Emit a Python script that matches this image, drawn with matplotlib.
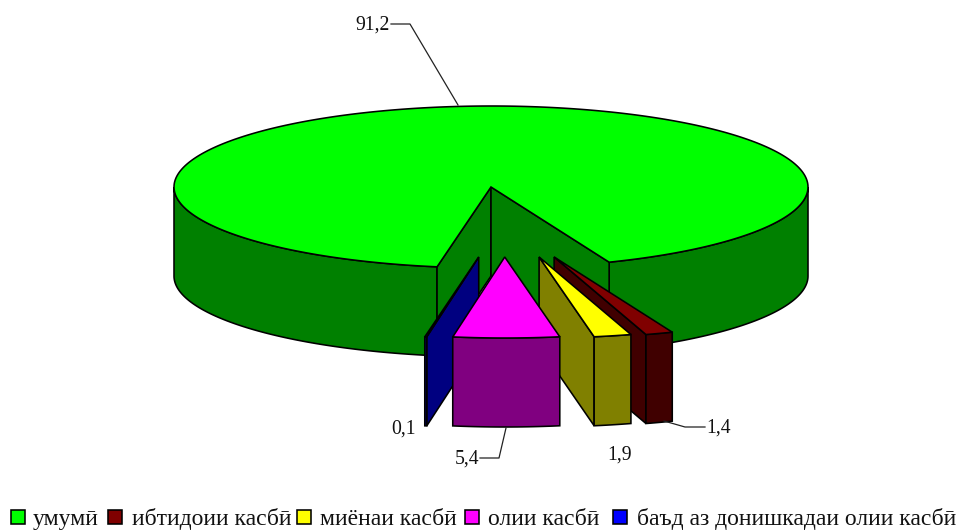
import numpy as np
import matplotlib
matplotlib.use("Agg")
import matplotlib.pyplot as plt
from matplotlib.patches import Polygon, Rectangle

plt.rcParams["font.family"] = ["Liberation Serif", "DejaVu Serif"]

categories = ["умумӣ", "ибтидоии касбӣ", "миёнаи касбӣ", "олии касбӣ",
              "баъд аз донишкадаи олии касбӣ"]
values = [91.2, 1.4, 1.9, 5.4, 0.1]
top_colors = ["#00ff00", "#800000", "#ffff00", "#ff00ff", "#0000ff"]
side_colors = ["#008000", "#400000", "#808000", "#800080", "#000080"]

CX, CY = 491, 187      # pie centre, pixels
A, B = 317, 81         # ellipse radii
DEPTH = 89
START = 189.8          # clockwise from 12 o'clock
EXPL_X, EXPL_Y, SHIFT = 0.477 * A, 70, 13
LW = 1.15

fig = plt.figure(figsize=(9.58, 5.30), dpi=100)
ax = fig.add_axes([0, 0, 1, 1])
ax.set_xlim(0, 958)
ax.set_ylim(530, 0)
ax.axis("off")


def rim(t0, t1, ox=0, oy=0, dz=0):
    t = np.radians(np.linspace(t0, t1, max(int(abs(t1 - t0)) + 2, 2)))
    return np.column_stack([ox + CX + A * np.sin(t), oy + CY - B * np.cos(t) + dz])


def poly(pts, fc, z):
    ax.add_patch(Polygon(pts, closed=True, fc=fc, ec="black", lw=LW,
                         joinstyle="miter", zorder=z))


def front(t0, t1, fc, z, ox=0, oy=0):
    up = rim(t0, t1, ox, oy)
    down = rim(t0, t1, ox, oy, DEPTH)
    poly(np.vstack([up, down[::-1]]), fc, z)


shares = np.array(values) / sum(values) * 360
ends = START + np.cumsum(shares)
begins = ends - shares

# ---- main slice: inner walls, outer wall, top ----
t0, t1 = begins[0], ends[0]
apex = np.array([[CX, CY]])
front(t0, 270, side_colors[0], 1)
front(450, t1, side_colors[0], 1)
for t in (t0, t1):
    p = rim(t, t)[0]
    poly([apex[0], p, p + [0, DEPTH], apex[0] + [0, DEPTH]], side_colors[0], 2)
poly(np.vstack([apex, rim(t0, t1)]), top_colors[0], 3)

# ---- exploded slices, back to front ----
for i, z in zip([1, 2, 4, 3], [4, 6, 8, 10]):
    t0, t1 = begins[i], ends[i]
    mid = (t0 + t1) / 2 % 360
    ox = SHIFT + EXPL_X * np.sin(np.radians(mid))
    oy = EXPL_Y
    ap = np.array([CX + ox, CY + oy])
    # cut face on the side that looks at the viewer
    if abs(mid - 180) > 2:
        edge = t1 if mid < 180 else t0
        p = rim(edge, edge, ox, oy)[0]
        poly([ap, p, p + [0, DEPTH], ap + [0, DEPTH]], side_colors[i], z)
    front(t0, t1, side_colors[i], z + 1, ox, oy)
    poly(np.vstack([ap, rim(t0, t1, ox, oy)]), top_colors[i], z + 1)

# ---- data labels and leaders ----
label_pos = [(372.5, 25), (719, 428), (619.5, 455), (467, 459), (403.5, 429)]
for v, (x, y) in zip(values, label_pos):
    ax.text(x, y, f"{v:.1f}".replace(".", ","), fontsize=14.2, color="#111111",
            ha="center", va="center", zorder=20)
leaders = [
    ([391, 410, 458], [24, 24, 105]),
    ([664, 685, 705], [421, 427, 427]),
    ([480, 499, 506], [458, 458, 428]),
]
for xs, ys in leaders:
    ax.plot(xs, ys, color="#222222", lw=0.9, zorder=19)

# ---- legend ----
swatch_x = [11, 108, 297, 465, 613]
text_x = [33, 132, 320, 488, 637]
for name, col, sx, tx in zip(categories, top_colors, swatch_x, text_x):
    ax.add_patch(Rectangle((sx, 510), 14, 14, fc=col, ec="black", lw=LW, zorder=5))
    ax.text(tx, 525, name, fontsize=17, color="#111111", ha="left",
            va="baseline", zorder=5)

fig.savefig("out.png", dpi=100)
